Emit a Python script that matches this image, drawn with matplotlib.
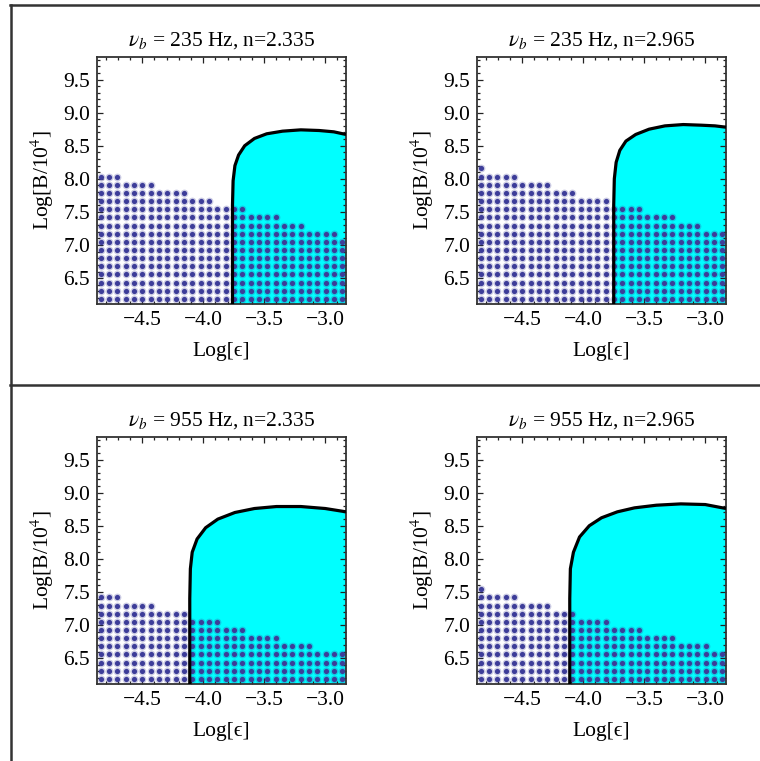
import numpy as np
import matplotlib.pyplot as plt
from matplotlib.lines import Line2D
from matplotlib.ticker import MultipleLocator, FixedLocator, FuncFormatter

plt.rcParams['font.family'] = ['Liberation Serif', 'DejaVu Serif']
plt.rcParams['mathtext.fontset'] = 'stix'

# panel titles
titles = [r'$\nu_b$ = 235 Hz, n=2.335', r'$\nu_b$ = 235 Hz, n=2.965',
          r'$\nu_b$ = 955 Hz, n=2.335', r'$\nu_b$ = 955 Hz, n=2.965']

# boundary of the cyan (allowed) region
curve_x_tl = [-3.76, -3.76, -3.755, -3.74, -3.71, -3.66, -3.58, -3.48, -3.35, -3.20, -3.05, -2.93, -2.83]
curve_y_tl = [6.11, 7.60, 7.97, 8.20, 8.36, 8.50, 8.61, 8.68, 8.72, 8.74, 8.73, 8.71, 8.67]
curve_x_tr = [-3.75, -3.75, -3.745, -3.73, -3.70, -3.65, -3.57, -3.46, -3.33, -3.18, -3.03, -2.92, -2.83]
curve_y_tr = [6.11, 7.60, 8.00, 8.25, 8.43, 8.57, 8.67, 8.75, 8.80, 8.82, 8.81, 8.80, 8.78]
curve_x_bl = [-4.11, -4.11, -4.105, -4.09, -4.05, -3.98, -3.88, -3.74, -3.58, -3.40, -3.20, -3.00, -2.83]
curve_y_bl = [6.11, 7.40, 7.85, 8.10, 8.30, 8.47, 8.60, 8.70, 8.76, 8.79, 8.79, 8.76, 8.71]
curve_x_br = [-4.11, -4.11, -4.105, -4.08, -4.03, -3.95, -3.85, -3.72, -3.58, -3.40, -3.20, -3.00, -2.83]
curve_y_br = [6.11, 7.40, 7.85, 8.10, 8.33, 8.50, 8.62, 8.71, 8.77, 8.81, 8.83, 8.82, 8.76]
curves_x = [curve_x_tl, curve_x_tr, curve_x_bl, curve_x_br]
curves_y = [curve_y_tl, curve_y_tr, curve_y_bl, curve_y_br]

# number of dots in each of the 30 grid columns (counted from the bottom row)
dots_tl = [16, 16, 16, 15, 15, 15, 15, 14, 14, 14, 14, 13, 13, 13, 12,
           12, 12, 12, 11, 11, 11, 11, 10, 10, 10, 9, 9, 9, 9, 8]
dots_tr = [17, 16, 16, 16, 16, 15, 15, 15, 15, 14, 14, 14, 13, 13, 13,
           13, 12, 12, 12, 12, 11, 11, 11, 11, 10, 10, 10, 9, 9, 9]
dots_bl = [11, 11, 11, 10, 10, 10, 10, 9, 9, 9, 9, 8, 8, 8, 8,
           7, 7, 7, 6, 6, 6, 6, 5, 5, 5, 5, 4, 4, 4, 4]
dots_br = [12, 11, 11, 11, 11, 10, 10, 10, 10, 9, 9, 9, 8, 8, 8,
           8, 7, 7, 7, 7, 6, 6, 6, 6, 5, 5, 5, 5, 4, 4]
dots = [dots_tl, dots_tr, dots_bl, dots_br]

# sampling lattice of the dotted region
grid_x0, grid_dx = -4.84, 0.0683
grid_y0, grid_dy = 6.186, 0.1232

xlim = (-4.87, -2.83)
ylim = (6.11, 9.84)

fig = plt.figure(figsize=(7.6, 7.61), dpi=100)

W, H = 760.0, 761.0
lefts = [97, 477, 97, 477]
tops = [57, 57, 437, 437]
aw, ah = 249, 247

dot_color = '#3d3d99'

for i in range(4):
    ax = fig.add_axes([lefts[i] / W, 1 - (tops[i] + ah) / H, aw / W, ah / H])
    cx = list(curves_x[i])
    cy = list(curves_y[i])
    # fill the region right of / below the boundary
    px = cx + [xlim[1] + 0.05, xlim[1] + 0.05, cx[0]]
    py = cy + [cy[-1], ylim[0] - 0.1, ylim[0] - 0.1]
    ax.fill(px, py, color='#00ffff', lw=0, zorder=1)

    xs, ys = [], []
    for c, n in enumerate(dots[i]):
        for r in range(n):
            xs.append(grid_x0 + c * grid_dx)
            ys.append(grid_y0 + r * grid_dy)
    # soft halo then the dot itself
    ax.scatter(xs, ys, s=32, color=dot_color, alpha=0.25, linewidths=0, zorder=2)
    ax.scatter(xs, ys, s=14, color=dot_color, linewidths=0, zorder=2)

    ax.plot(cx, cy, color='black', lw=2.3, solid_capstyle='butt', zorder=3)

    ax.set_xlim(*xlim)
    ax.set_ylim(*ylim)
    ax.xaxis.set_major_locator(FixedLocator([-4.5, -4.0, -3.5, -3.0]))
    ax.xaxis.set_minor_locator(MultipleLocator(0.1))
    ax.yaxis.set_major_locator(FixedLocator([6.5, 7.0, 7.5, 8.0, 8.5, 9.0, 9.5]))
    ax.yaxis.set_minor_locator(MultipleLocator(0.1))
    ax.xaxis.set_major_formatter(FuncFormatter(lambda v, p: ('%.1f' % v).replace('-', '\u2212')))
    ax.yaxis.set_major_formatter(FuncFormatter(lambda v, p: '%.1f' % v))
    ax.tick_params(which='both', direction='in', top=True, right=True, width=0.9, color='#222222')
    ax.tick_params(which='major', length=4.5, labelsize=15.5, pad=5)
    ax.tick_params(which='minor', length=2.5)
    for s in ax.spines.values():
        s.set_linewidth(1.3)
        s.set_color('#333333')

    ax.set_title(titles[i], fontsize=15.5, pad=8)
    ax.set_xlabel('Log[\u03f5]', fontsize=15.5, labelpad=9)
    ax.set_ylabel(r'Log[B/10$^4$]', fontsize=15.5, labelpad=5)

# outer frame lines
frame = dict(color='#333333', lw=1.8, transform=fig.transFigure)
fig.add_artist(Line2D([10.5 / W, 10.5 / W], [0, 1 - 5 / H], **frame))
fig.add_artist(Line2D([10 / W, 1], [1 - 5 / H, 1 - 5 / H], **frame))
fig.add_artist(Line2D([10 / W, 1], [1 - 385 / H, 1 - 385 / H], **frame))

fig.savefig('out.png', dpi=100)
